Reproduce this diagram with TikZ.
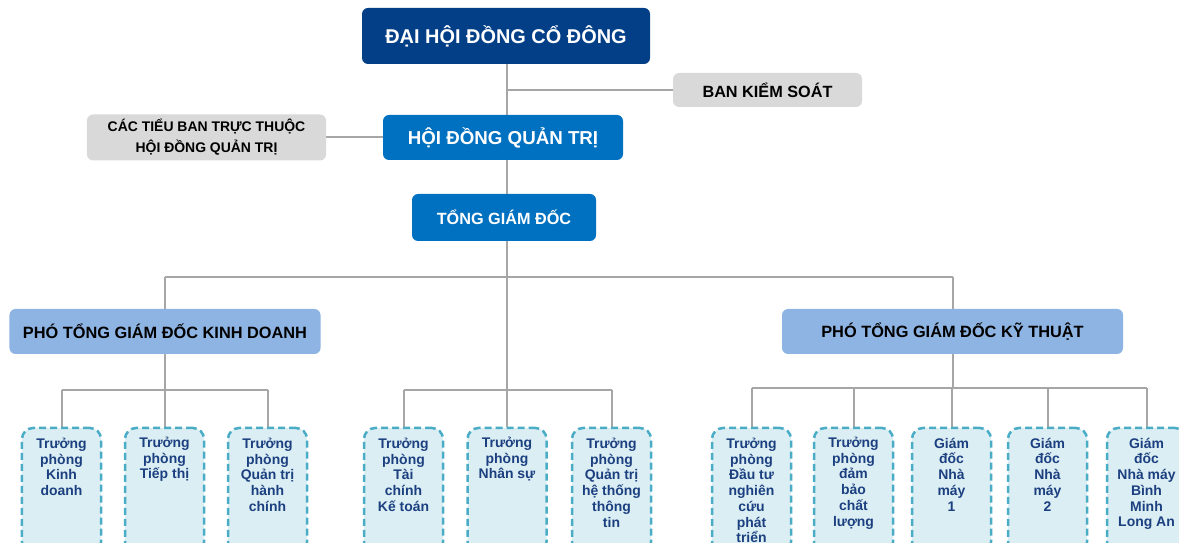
\documentclass[tikz,border=0pt]{standalone}
\usepackage{fontspec}
\setmainfont{Liberation Sans}
\usetikzlibrary{backgrounds}
\definecolor{navybox}{HTML}{033F87}
\definecolor{bluebox}{HTML}{0070C0}
\definecolor{graybox}{HTML}{D9D9D9}
\definecolor{lightbox}{HTML}{8EB4E3}
\definecolor{dashborder}{HTML}{4BACC6}
\definecolor{dashfill}{HTML}{DAEEF3}
\definecolor{childtext}{HTML}{1C3F80}
\definecolor{connector}{HTML}{A6A6A6}
\tikzset{
  boxbase/.style={rounded corners=6bp, inner sep=0pt, align=center, font=\bfseries},
  navynode/.style={boxbase, fill=navybox, text=white},
  bluenode/.style={boxbase, fill=bluebox, text=white},
  graynode/.style={boxbase, fill=graybox, text=black},
  vicenode/.style={boxbase, fill=lightbox, text=black},
  childbox/.style={draw=dashborder, fill=dashfill, line width=2.5bp, dash pattern=on 7bp off 4bp,
     rounded corners=11bp, minimum width=79bp, minimum height=125bp, inner sep=0pt},
  childlabel/.style={anchor=north, align=center, inner sep=0pt, text=childtext,
     font=\fontsize{14}{15.8}\selectfont\bfseries},
  conn/.style={draw=connector, line width=2bp},
}
\begin{document}
\begin{tikzpicture}[x=1bp,y=-1bp]
\useasboundingbox (0,0) rectangle (1179,543);
\clip (0,0) rectangle (1179,543);
% top level
\node[navynode, minimum width=288bp, minimum height=56bp, font=\fontsize{20}{22}\selectfont\bfseries] (dh) at (506,36) {ĐẠI HỘI ĐỒNG CỔ ĐÔNG};
\node[graynode, minimum width=189bp, minimum height=34bp, font=\fontsize{16.3}{17}\selectfont\bfseries] (bks) at (767.5,90) {BAN KIỂM SOÁT};
\node[bluenode, minimum width=240bp, minimum height=45bp, font=\fontsize{18.8}{21}\selectfont\bfseries] (hd) at (503,137.5) {HỘI ĐỒNG QUẢN TRỊ};
\node[graynode, minimum width=239bp, minimum height=46bp, font=\fontsize{14}{21}\selectfont\bfseries] (tb) at (206.5,137.5) {CÁC TIỂU BAN TRỰC THUỘC\\HỘI ĐỒNG QUẢN TRỊ};
\node[bluenode, minimum width=184bp, minimum height=47bp, font=\fontsize{16.3}{18}\selectfont\bfseries] (tgd) at (504,217.5) {TỔNG GIÁM ĐỐC};
\node[vicenode, minimum width=311bp, minimum height=45bp, font=\fontsize{16.4}{18}\selectfont\bfseries] (kd) at (165,331.5) {PHÓ TỔNG GIÁM ĐỐC KINH DOANH};
\node[vicenode, minimum width=341bp, minimum height=45bp, font=\fontsize{16.4}{18}\selectfont\bfseries] (kt) at (952.5,331.5) {PHÓ TỔNG GIÁM ĐỐC KỸ THUẬT};
% children
\foreach \n/\x in {c1/61.5,c2/164.5,c3/267.5,c4/403.5,c5/507,c6/611.5,c7/751.5,c8/853.5,c9/951.5,c10/1047.5,c11/1146.5}{
  \node[childbox] (\n) at (\x,490.5) {};
}
\node[childlabel] (c1t) at ([yshift=-11bp]c1.north) {Trưởng\\phòng\\Kinh\\doanh};
\node[childlabel] (c2t) at ([yshift=-10bp]c2.north) {Trưởng\\phòng\\Tiếp thị};
\node[childlabel] (c3t) at ([yshift=-11bp]c3.north) {Trưởng\\phòng\\Quản trị\\hành\\chính};
\node[childlabel] (c4t) at ([yshift=-11bp]c4.north) {Trưởng\\phòng\\Tài\\chính\\Kế toán};
\node[childlabel] (c5t) at ([yshift=-10bp]c5.north) {Trưởng\\phòng\\Nhân sự};
\node[childlabel] (c6t) at ([yshift=-11bp]c6.north) {Trưởng\\phòng\\Quản trị\\hệ thống\\thông\\tin};
\node[childlabel] (c7t) at ([yshift=-11bp]c7.north) {Trưởng\\phòng\\Đầu tư\\nghiên\\cứu\\phát\\triển};
\node[childlabel] (c8t) at ([yshift=-10bp]c8.north) {Trưởng\\phòng\\đảm\\bảo\\chất\\lượng};
\node[childlabel] (c9t) at ([yshift=-11bp]c9.north) {Giám\\đốc\\Nhà\\máy\\1};
\node[childlabel] (c10t) at ([yshift=-11bp]c10.north) {Giám\\đốc\\Nhà\\máy\\2};
\node[childlabel] (c11t) at ([yshift=-11bp]c11.north) {Giám\\đốc\\Nhà máy\\Bình\\Minh\\Long An};
% connectors
\coordinate (trunk) at (507,277);
\coordinate (b1) at (165,390);
\coordinate (b3) at (952,388);
\begin{scope}[on background layer]
\draw[conn] (dh.south -| trunk) -- (trunk);
\draw[conn] (bks.west) -- (bks.west -| trunk);
\draw[conn] (tb.east) -- (tb.east -| hd.west);
\draw[conn] (kd.north |- trunk) -- (kt.north |- trunk);
\draw[conn] (kd.north |- trunk) -- (kd.north);
\draw[conn] (kt.north |- trunk) -- (kt.north);
\draw[conn] (trunk) -- (c5.north);
% group 1
\draw[conn] (kd.south) -- (kd.south |- b1);
\draw[conn] (c1.north |- b1) -- (c3.north |- b1);
\foreach \c in {c1,c2,c3}{\draw[conn] (\c.north |- b1) -- (\c.north);}
% group 2
\draw[conn] (c4.north |- b1) -- (c6.north |- b1);
\foreach \c in {c4,c6}{\draw[conn] (\c.north |- b1) -- (\c.north);}
% group 3
\draw[conn] (kt.south) -- (kt.south |- b3);
\draw[conn] (c7.north |- b3) -- (c11.north |- b3);
\foreach \c in {c7,c8,c9,c10,c11}{\draw[conn] (\c.north |- b3) -- (\c.north);}
\end{scope}
\end{tikzpicture}
\end{document}
